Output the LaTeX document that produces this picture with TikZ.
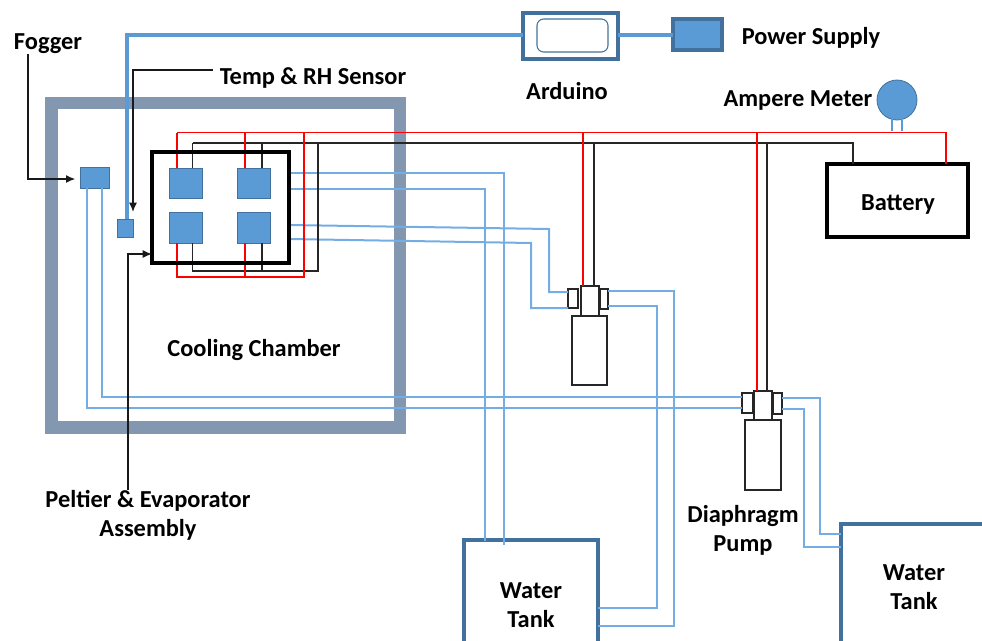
\documentclass[tikz,border=0pt]{standalone}
\usepackage{fontspec}
\setmainfont{Carlito}
\usetikzlibrary{arrows.meta}
\definecolor{wallc}{HTML}{8497B0}
\definecolor{fillb}{HTML}{5B9BD5}
\definecolor{edgeb}{HTML}{41719C}
\definecolor{pipec}{HTML}{74ADE4}
\newcommand{\pxbox}[6]{%
  \pgfmathsetmacro\pxw{(#5-#3)*0.75}%
  \pgfmathsetmacro\pxh{(#6-#4)*0.75}%
  \node[#1,minimum width=\pxw pt,minimum height=\pxh pt,inner sep=0pt,outer sep=0pt] (#2) at ({(#3+#5)/2},{(#4+#6)/2}) {};}
\tikzset{
  lbl/.style={font=\bfseries\fontsize{18.3}{21.75}\selectfont,text=black,align=center,inner sep=0pt},
  wall/.style={draw=wallc,line width=9.4pt},
  pel/.style={draw=edgeb,fill=fillb,line width=0.7pt},
  frameb/.style={draw=black,line width=2.7pt},
  bat/.style={draw=black,line width=2.35pt},
  pumpb/.style={draw=black!85,line width=1.4pt,fill=white},
  tank/.style={draw=edgeb,line width=2.35pt},
  pipe/.style={draw=pipec,line width=1.5pt},
  redw/.style={draw=red,line width=1.3pt},
  blkw/.style={draw=black!85,line width=1.3pt},
  callout/.style={draw=black!90,line width=1.1pt,-{Latex[length=7pt,width=6pt]}},
  ctrl/.style={draw=fillb,line width=2.3pt},
}
\begin{document}
\begin{tikzpicture}[x=0.75pt,y=-0.75pt]
\useasboundingbox (0,0) rectangle (982,640);
% chamber wall
\pxbox{wall}{chamber}{51.5}{103}{400}{427.5}
% placed boxes (drawn first so connectors can refer to them)
\pxbox{draw=none}{frameref}{152}{152}{289}{263}
\pxbox{pel}{fog}{80}{167}{109}{188}
\pxbox{pel}{sensor}{117}{219}{133}{237}
\pxbox{pel}{pa}{169}{168}{202}{198}
\pxbox{pel}{pb}{237}{168}{270}{198}
\pxbox{pel}{pc}{169}{212}{202}{243}
\pxbox{pel}{pd}{237}{212}{270}{243}
\pxbox{bat}{battery}{827}{164}{968}{237}
\pxbox{tank}{tankA}{464}{540}{598}{665}
\pxbox{tank}{tankB}{841}{524}{990}{665}
\pxbox{pumpb}{pumpAc}{581}{286}{599}{316}
\pxbox{pumpb}{pumpAl}{568}{289}{578}{308}
\pxbox{pumpb}{pumpAr}{600}{289}{608}{309}
\pxbox{pumpb}{pumpAb}{572}{316}{607}{385}
\pxbox{pumpb}{pumpBc}{754}{391}{772}{420}
\pxbox{pumpb}{pumpBl}{742}{393}{753}{413}
\pxbox{pumpb}{pumpBr}{773}{393}{782}{414}
\pxbox{pumpb}{pumpBb}{745}{420}{781}{490}
\pxbox{tank}{arduino}{523}{13}{618}{59}
\pxbox{draw=edgeb,line width=0.8pt,rounded corners=5pt}{arduinoin}{537}{19}{608}{52}
\pxbox{draw=edgeb,fill=fillb,line width=2.35pt}{power}{673}{19}{722}{50}
\node[draw=edgeb,fill=fillb,line width=0.6pt,circle,minimum size=30pt,inner sep=0pt,outer sep=0pt] (ammeter) at (897,100) {};
% named routing points
\coordinate (redL) at (177,132.5);
\coordinate (redM) at (245,132.5);
\coordinate (redR) at (304,132.5);
\coordinate (redB) at (304,277);
\coordinate (blkL) at (192.5,143);
\coordinate (blkM) at (262,143);
\coordinate (blkR) at (318,143);
\coordinate (blkB) at (318,271);
% water pipes
\draw[pipe] (frameref.east |- 0,173) -- (504,173) -- (504,545);
\draw[pipe] (frameref.east |- 0,189) -- (485,189) -- (485,541);
\draw[pipe] (frameref.east |- 0,225) -- (549,229) -- (549,292) -- (pumpAl.west |- 0,292);
\draw[pipe] (frameref.east |- 0,239) -- (531,243) -- (531,308) -- (pumpAl.west |- 0,308);
\draw[pipe] (pumpAr.east |- 0,291) -- (674,291) -- (674,626) -- (tankA.east |- 0,626);
\draw[pipe] (pumpAr.east |- 0,306) -- (657,306) -- (657,608) -- (tankA.east |- 0,608);
\draw[pipe] (fog.south -| 102,0) -- (102,397) -- (pumpBl.west |- 0,397);
\draw[pipe] (fog.south -| 87,0) -- (87,408) -- (pumpBl.west |- 0,408);
\draw[pipe] (pumpBr.east |- 0,398) -- (820,398) -- (820,534) -- (tankB.west |- 0,534);
\draw[pipe] (pumpBr.east |- 0,409) -- (804,409) -- (804,547) -- (tankB.west |- 0,547);
% control lines
\draw[ctrl] (arduino.west |- 0,35) -- (127,35) -- (sensor.north -| 127,0);
\draw[ctrl] (arduino.east |- 0,35) -- (power.west |- 0,35);
\draw[draw=fillb,line width=1.9pt] (892,118) -- (892,131);
\draw[draw=fillb,line width=1.9pt] (902,118) -- (902,131);
% black wires
\draw[blkw] (blkL) -- (blkM) -- (blkR) -- (blkB) -- (192.5,271) -- (pc.south -| 192.5,0);
\draw[blkw] (blkL) -- (pa.north -| 192.5,0);
\draw[blkw] (blkM) -- (pb.north -| 262,0);
\draw[blkw] (pd.south -| 262,0) -- (262,271);
\draw[blkw] (blkR) -- (853,143) -- (battery.north -| 853,0);
\draw[blkw] (594,143) -- (pumpAc.north -| 594,0);
\draw[blkw] (767,143) -- (pumpBc.north -| 767,0);
% red wires
\draw[redw] (redL) -- (redM) -- (redR) -- (redB) -- (177,277) -- (pc.south -| 177,0);
\draw[redw] (redL) -- (pa.north -| 177,0);
\draw[redw] (redM) -- (pb.north -| 245,0);
\draw[redw] (pd.south -| 245,0) -- (245,277);
\draw[redw] (redR) -- (946,132.5) -- (battery.north -| 946,0);
\draw[redw] (583,132.5) -- (pumpAc.north -| 583,0);
\draw[redw] (757,132.5) -- (pumpBc.north -| 757,0);
% Peltier frame on top
\pxbox{frameb}{frame}{152}{152}{289}{263}
% labels
\node[lbl] (tfog) at (48,44) {Fogger};
\node[lbl] (tsens) at (313,78) {Temp \& RH Sensor};
\node[lbl] (tard) at (567,91) {Arduino};
\node[lbl] (tpow) at (811,38) {Power Supply};
\node[lbl] (tamp) at (798,101) {Ampere Meter};
\node[lbl] (tbat) at (898,205) {Battery};
\node[lbl] (tcool) at (254,350) {Cooling Chamber};
\node[lbl] (tpel) at (148,515) {Peltier \& Evaporator\\Assembly};
\node[lbl] (ttA) at (531,605) {Water\\Tank};
\node[lbl] (tdia) at (743,530.5) {Diaphragm\\Pump};
\node[lbl] (ttB) at (914,587) {Water\\Tank};
% callouts
\draw[callout] (tfog.south -| 28,0) -- (28,179) -- (fog.west |- 0,179) [shorten >=3.5pt];
\draw[callout,shorten <=5pt] (tsens.west |- 0,70) -- (133,70) -- (133,212);
\draw[callout] (tpel.north -| 128,0) -- (128,254) -- (frame.west |- 0,254);
\end{tikzpicture}
\end{document}
